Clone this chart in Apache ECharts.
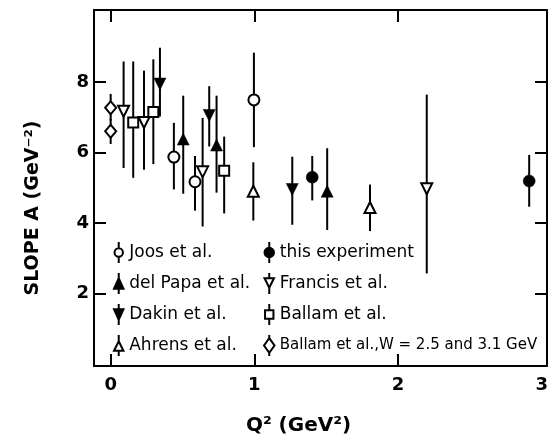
<!DOCTYPE html>
<html>
<head>
<meta charset="utf-8">
<script src="https://cdn.jsdelivr.net/npm/echarts@6/dist/echarts.min.js"></script>
<style>html,body{margin:0;padding:0;background:#fff}#c{width:553px;height:443px}</style>
</head>
<body>
<div id="c"></div>
<script>
// ---- data (Q^2 in GeV^2, slope A in GeV^-2, error bar low/high) ----
const joosX = [0.44, 0.587, 0.997];
const joosY = [5.87, 5.17, 7.49];
const joosLo = [4.95, 4.35, 6.15];
const joosHi = [6.84, 5.90, 8.83];

const papaX = [0.505, 0.737, 1.507];
const papaY = [6.38, 6.21, 4.90];
const papaLo = [4.83, 4.86, 3.80];
const papaHi = [7.61, 7.61, 6.12];

const dakinX = [0.343, 0.686, 1.264];
const dakinY = [7.94, 7.05, 4.95];
const dakinLo = [7.02, 6.17, 3.95];
const dakinHi = [8.97, 7.88, 5.88];

const ahrensX = [0.993, 1.805];
const ahrensY = [4.90, 4.44];
const ahrensLo = [4.07, 3.77];
const ahrensHi = [5.72, 5.09];

const thisX = [1.403, 2.913];
const thisY = [5.30, 5.19];
const thisLo = [4.64, 4.46];
const thisHi = [5.90, 5.93];

const francisX = [0.09, 0.232, 0.64, 2.2];
const francisY = [7.17, 6.85, 5.45, 4.97];
const francisLo = [5.56, 5.51, 3.90, 2.57];
const francisHi = [8.58, 8.32, 6.98, 7.64];

const ballamX = [0.157, 0.297, 0.79];
const ballamY = [6.85, 7.15, 5.48];
const ballamLo = [5.28, 5.67, 4.27];
const ballamHi = [8.58, 8.64, 6.45];

const ballamWX = [0, 0];
const ballamWY = [7.27, 6.60];
const ballamWLo = [6.90, 6.24];
const ballamWHi = [7.66, 6.95];

const xTicks = [0, 1, 2];
const xLabels = [0, 1, 2, 3];
const yTicks = [2, 4, 6, 8];

const names = {
  joos: 'Joos et al.', papa: 'del Papa et al.', dakin: 'Dakin et al.', ahrens: 'Ahrens et al.',
  mine: 'this experiment', francis: 'Francis et al.', ballam: 'Ballam et al.',
  ballamW: 'Ballam et al.,W = 2.5 and 3.1 GeV'
};
const xTitle = 'Q² (GeV²)';
const yTitle = 'SLOPE A (GeV⁻²)';

// ---- rendering ----
const FONT = 'DejaVu Sans';
const chart = echarts.init(document.getElementById('c'), null, {renderer: 'canvas'});

function errSeries(xs, lo, hi) {
  return {
    type: 'custom', z: 2, silent: true,
    xAxisIndex: 0, yAxisIndex: 0,
    encode: {x: 0, y: [1, 2]},
    data: xs.map((x, i) => [x, lo[i], hi[i]]),
    renderItem: (params, api) => {
      const p1 = api.coord([api.value(0), api.value(1)]);
      const p2 = api.coord([api.value(0), api.value(2)]);
      return {type: 'line', shape: {x1: p1[0], y1: p1[1], x2: p2[0], y2: p2[1]},
              style: {stroke: '#000', lineWidth: 2}};
    }
  };
}
function markSeries(name, xs, ys, symbol, rot, filled, size) {
  return {
    type: 'scatter', name: name, z: 5, silent: true,
    xAxisIndex: 0, yAxisIndex: 0,
    symbol: symbol, symbolRotate: rot, symbolSize: size,
    itemStyle: {color: filled ? '#000' : '#fff', borderColor: '#000', borderWidth: filled ? 0.5 : 2, opacity: 1},
    data: xs.map((x, i) => [x, ys[i]])
  };
}

const series = [
  errSeries(joosX, joosLo, joosHi), errSeries(papaX, papaLo, papaHi),
  errSeries(dakinX, dakinLo, dakinHi), errSeries(ahrensX, ahrensLo, ahrensHi),
  errSeries(thisX, thisLo, thisHi), errSeries(francisX, francisLo, francisHi),
  errSeries(ballamX, ballamLo, ballamHi), errSeries(ballamWX, ballamWLo, ballamWHi),
  markSeries(names.joos, joosX, joosY, 'circle', 0, false, 11),
  markSeries(names.papa, papaX, papaY, 'triangle', 0, true, [12, 12]),
  markSeries(names.dakin, dakinX, dakinY, 'triangle', 180, true, [12, 12]),
  markSeries(names.ahrens, ahrensX, ahrensY, 'triangle', 0, false, [11, 11]),
  markSeries(names.mine, thisX, thisY, 'circle', 0, true, 12),
  markSeries(names.francis, francisX, francisY, 'triangle', 180, false, [11, 11]),
  markSeries(names.ballam, ballamX, ballamY, 'rect', 0, false, [10, 10]),
  markSeries(names.ballamW, ballamWX, ballamWY, 'diamond', 0, false, [11, 13])
];

const icons = {
  joos: 'path://M5,0L5,6M5,14L5,20M1,10A4,4,0,1,1,9,10A4,4,0,1,1,1,10Z',
  papa: 'path://M5,0L5,20M5,5L9.5,15L0.5,15Z',
  dakin: 'path://M5,0L5,20M0.5,5L9.5,5L5,15Z',
  ahrens: 'path://M5,0L5,6M5,15L5,20M5,6L9.5,15L0.5,15Z',
  mine: 'path://M5,0L5,20M0.5,10A4.5,4.5,0,1,1,9.5,10A4.5,4.5,0,1,1,0.5,10Z',
  francis: 'path://M5,0L5,5M5,14L5,20M0.5,5L9.5,5L5,14Z',
  ballam: 'path://M5,0L5,6M5,14L5,20M1,6L9,6L9,14L1,14Z',
  ballamW: 'path://M5,0L5,3M5,17L5,20M5,3L10,10L5,17L0,10Z'
};
function legItem(key, filled, extra) {
  const it = {name: names[key], icon: icons[key],
    itemStyle: {color: filled ? '#000' : '#fff', borderColor: '#000', borderWidth: 2}};
  return Object.assign(it, extra || {});
}
const legBase = {
  orient: 'vertical', top: 241, padding: 0, itemWidth: 11, itemHeight: 21, itemGap: 8,
  selectedMode: false,
  textStyle: {fontFamily: FONT, fontSize: 17, lineHeight: 20, color: '#000'}
};

const axisLineStyle = {show: true, onZero: false, lineStyle: {color: '#000', width: 2}};
const tickStyle = {show: true, inside: true, length: 12, lineStyle: {color: '#000', width: 2}};
const tickFont = {fontFamily: FONT, fontSize: 18, fontWeight: 'bold', color: '#000'};

chart.setOption({
  animation: false,
  backgroundColor: '#fff',
  grid: {left: 94, right: 6, top: 10, bottom: 77, containLabel: false},
  xAxis: [
    {type: 'value', position: 'bottom', min: -0.116, max: 3.037,
     axisLine: axisLineStyle, splitLine: {show: false},
     axisTick: Object.assign({customValues: xTicks}, tickStyle),
     axisLabel: Object.assign({customValues: xLabels, margin: 10}, tickFont),
     name: xTitle, nameLocation: 'middle', nameGap: 50,
     nameTextStyle: {fontFamily: FONT, fontSize: 20, fontWeight: 'bold', color: '#000', padding: [0, 44, 0, 0]}},
    {type: 'value', position: 'top', min: -0.116, max: 3.037,
     axisLine: axisLineStyle, splitLine: {show: false},
     axisTick: Object.assign({customValues: xTicks}, tickStyle),
     axisLabel: {show: false}}
  ],
  yAxis: [
    {type: 'value', position: 'left', min: -0.056, max: 10.04,
     axisLine: axisLineStyle, splitLine: {show: false},
     axisTick: Object.assign({customValues: yTicks}, tickStyle),
     axisLabel: Object.assign({customValues: yTicks, margin: 5}, tickFont),
     name: yTitle, nameLocation: 'middle', nameGap: 51, nameRotate: 90,
     nameTextStyle: {fontFamily: FONT, fontSize: 19, fontWeight: 'bold', color: '#000', padding: [0, 40, 0, 0]}},
    {type: 'value', position: 'right', min: -0.056, max: 10.04,
     axisLine: axisLineStyle, splitLine: {show: false},
     axisTick: Object.assign({customValues: yTicks}, tickStyle),
     axisLabel: {show: false}}
  ],
  legend: [
    Object.assign({}, legBase, {left: 113, itemTextGap: 7,
      data: [legItem('joos', false), legItem('papa', true), legItem('dakin', true), legItem('ahrens', false)]}),
    Object.assign({}, legBase, {left: 263, itemTextGap: 5,
      data: [legItem('mine', true), legItem('francis', false), legItem('ballam', false),
             legItem('ballamW', false, {textStyle: {fontFamily: FONT, fontSize: 15, lineHeight: 20, color: '#000'}})]})
  ],
  series: series
});
</script>
</body>
</html>
